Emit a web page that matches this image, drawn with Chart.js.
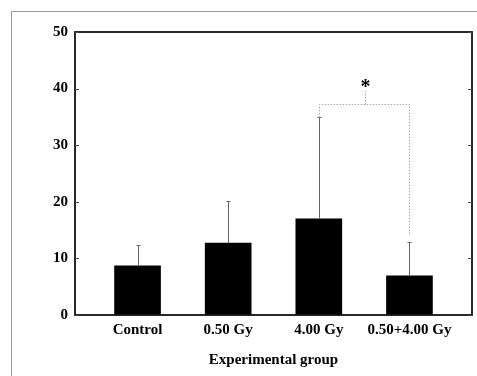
<!DOCTYPE html>
<html>
<head>
<meta charset="utf-8">
<script src="https://cdn.jsdelivr.net/npm/chart.js@4/dist/chart.umd.min.js"></script>
<style>
  html, body { margin: 0; padding: 0; background: #fff; }
  #wrap { position: relative; width: 477px; height: 376px; overflow: hidden; }
  #frame { position: absolute; left: 11px; top: 11px; width: 480px; height: 380px;
           border-left: 1px solid #999; border-top: 1px solid #999; pointer-events: none; }
  canvas { position: absolute; left: 0; top: 0; }
</style>
</head>
<body>
<div id="wrap">
  <canvas id="c" width="477" height="376"></canvas>
  <div id="frame"></div>
</div>
<script>
// ---- data ----
const categories = ["Control", "0.50 Gy", "4.00 Gy", "0.50+4.00 Gy"];
const means = [8.7, 12.7, 17.0, 6.9];
const errorTops = [12.4, 20.2, 34.9, 12.95];
const yTicks = [0, 10, 20, 30, 40, 50];
// significance bracket between groups 2 and 3
const sigPair = [2, 3];
const sigBracketY = 37.2;
const sigLegEnds = [34.9, 14.1];
const sigStemTop = 39.6;
const sigStarY = 41.2;
const sigLabel = "*";

const serif = "'Liberation Serif', 'Times New Roman', serif";

const overlay = {
  id: 'overlay',
  afterDatasetsDraw(chart) {
    const ctx = chart.ctx;
    const xs = chart.scales.x, ys = chart.scales.y;
    const a = chart.chartArea;
    ctx.save();
    // error bars (upper only)
    ctx.strokeStyle = '#666';
    ctx.lineWidth = 1;
    errorTops.forEach((t, i) => {
      const x = Math.round(xs.getPixelForValue(i)) + 0.5;
      const y0 = ys.getPixelForValue(means[i]);
      const y1 = Math.round(ys.getPixelForValue(t)) + 0.5;
      ctx.beginPath();
      ctx.moveTo(x, y0); ctx.lineTo(x, y1);
      ctx.moveTo(x - 2, y1); ctx.lineTo(x + 2, y1);
      ctx.stroke();
    });
    // frame
    ctx.strokeStyle = '#111';
    ctx.lineWidth = 1.8;
    ctx.strokeRect(a.left, a.top, a.right - a.left, a.bottom - a.top);
    // inner ticks left and right
    ctx.lineWidth = 1;
    ctx.strokeStyle = '#444';
    yTicks.forEach(v => {
      const y = Math.round(ys.getPixelForValue(v)) + 0.5;
      ctx.beginPath();
      ctx.moveTo(a.left, y); ctx.lineTo(a.left + 4, y);
      ctx.moveTo(a.right, y); ctx.lineTo(a.right - 4, y);
      ctx.stroke();
    });
    // significance bracket
    const xa = Math.round(xs.getPixelForValue(sigPair[0])) + 0.5;
    const xb = Math.round(xs.getPixelForValue(sigPair[1])) + 0.5;
    const xm = Math.round((xa + xb) / 2) + 0.5;
    const yb = Math.round(ys.getPixelForValue(sigBracketY)) + 0.5;
    ctx.strokeStyle = '#aaa';
    ctx.setLineDash([1.5, 1.5]);
    ctx.beginPath();
    ctx.moveTo(xa, ys.getPixelForValue(sigLegEnds[0])); ctx.lineTo(xa, yb);
    ctx.lineTo(xb, yb); ctx.lineTo(xb, ys.getPixelForValue(sigLegEnds[1]));
    ctx.moveTo(xm, yb); ctx.lineTo(xm, ys.getPixelForValue(sigStemTop));
    ctx.stroke();
    ctx.setLineDash([]);
    ctx.fillStyle = '#000';
    ctx.font = 'bold 20px ' + serif;
    ctx.textAlign = 'center';
    ctx.textBaseline = 'alphabetic';
    ctx.fillText(sigLabel, xm, ys.getPixelForValue(sigStarY) + 11);
    ctx.restore();
  }
};

new Chart(document.getElementById('c'), {
  type: 'bar',
  data: {
    datasets: [{
      data: means.map((v, i) => ({ x: i, y: v })),
      backgroundColor: '#000',
      borderWidth: 0,
      barThickness: 46
    }]
  },
  options: {
    responsive: false,
    animation: false,
    devicePixelRatio: 1,
    layout: { padding: { top: 32, right: 5, left: 0, bottom: 0 } },
    plugins: { legend: { display: false }, tooltip: { enabled: false } },
    scales: {
      x: {
        type: 'linear',
        min: -0.69,
        max: 3.69,
        offset: false,
        grid: { display: false, drawTicks: false },
        border: { display: false },
        afterBuildTicks: s => { s.ticks = categories.map((_, i) => ({ value: i })); },
        afterFit: s => { s.height = 61; },
        ticks: {
          padding: 6,
          autoSkip: false,
          maxRotation: 0,
          color: '#000',
          font: { family: serif, size: 15, weight: 'bold' },
          callback: v => categories[v] !== undefined ? categories[v] : ''
        },
        title: {
          display: true,
          text: 'Experimental group',
          color: '#000',
          font: { family: serif, size: 15, weight: 'bold' },
          padding: { top: 0, bottom: 7 }
        }
      },
      y: {
        min: 0,
        max: 50,
        grid: { display: false, drawTicks: false },
        border: { display: false },
        afterBuildTicks: s => { s.ticks = yTicks.map(v => ({ value: v })); },
        afterFit: s => { s.width = 75; },
        ticks: {
          padding: 7,
          color: '#000',
          font: { family: serif, size: 15, weight: 'bold' }
        }
      }
    }
  },
  plugins: [overlay]
});
</script>
</body>
</html>
